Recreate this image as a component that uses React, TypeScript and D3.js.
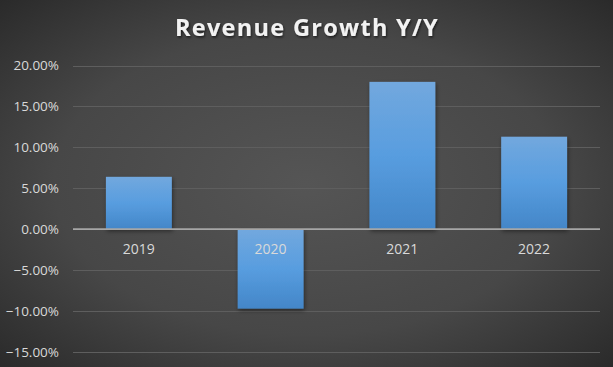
import React from 'react';
import * as d3 from 'd3';

// data
const years = ['2019', '2020', '2021', '2022'];
const growth = [0.064, -0.097, 0.18, 0.113];
const yTicks = [-0.15, -0.1, -0.05, 0, 0.05, 0.1, 0.15, 0.2];

const W = 613;
const H = 367;
const margin = {top: 65, right: 13, bottom: 15, left: 73};

export default function App() {
  const xScale = d3.scaleBand()
    .domain(years)
    .range([margin.left, W - margin.right])
    .paddingInner(0.5)
    .paddingOuter(0.25);

  const yScale = d3.scaleLinear()
    .domain([-0.15, 0.2])
    .range([352, 65.5]);

  const fmt = d3.format('.2%');
  const font = '"Open Sans", "Liberation Sans", sans-serif';

  return (
    <svg width={W} height={H} style={{position: 'absolute', left: 0, top: 0}}>
      <defs>
        <radialGradient id="bg" cx="50%" cy="50%" r="75%">
          <stop offset="0%" stopColor="#555555" />
          <stop offset="55%" stopColor="#474747" />
          <stop offset="100%" stopColor="#262626" />
        </radialGradient>
        <linearGradient id="bar" x1="0" y1="0" x2="0" y2="1">
          <stop offset="0%" stopColor="#72a8de" />
          <stop offset="50%" stopColor="#589ddf" />
          <stop offset="100%" stopColor="#4386c8" />
        </linearGradient>
        <filter id="shadow" x="-20%" y="-20%" width="140%" height="140%">
          <feDropShadow dx="1" dy="2" stdDeviation="2" floodColor="#000" floodOpacity="0.45" />
        </filter>
        <filter id="tshadow" x="-10%" y="-20%" width="120%" height="150%">
          <feDropShadow dx="1" dy="1.5" stdDeviation="1" floodColor="#000" floodOpacity="0.6" />
        </filter>
      </defs>
      <rect x={0} y={0} width={W} height={H} fill="url(#bg)" />

      <text x={307} y={36} textAnchor="middle" fill="#f2f2f2" fontFamily={font}
        fontWeight="bold" fontSize={23.5} letterSpacing={1.3} filter="url(#tshadow)">
        Revenue Growth Y/Y
      </text>

      {/* gridlines */}
      {yTicks.filter(t => t !== 0).map(t => (
        <line key={t} x1={margin.left} x2={W - margin.right}
          y1={Math.round(yScale(t)) + 0.5} y2={Math.round(yScale(t)) + 0.5}
          stroke="#5e5e5e" strokeWidth={1} />
      ))}

      {/* y tick labels */}
      {yTicks.map(t => (
        <text key={'l' + t} x={59} y={yScale(t)} dy="0.35em" textAnchor="end"
          fill="#d9d9d9" fontFamily={font} fontSize={13.5}>
          {fmt(t)}
        </text>
      ))}

      {/* bars */}
      {years.map((yr, i) => {
        const v = growth[i];
        const y0 = yScale(0);
        const y1 = yScale(v);
        return (
          <rect key={yr} x={xScale(yr)} width={xScale.bandwidth()}
            y={Math.min(y0, y1)} height={Math.abs(y1 - y0)}
            fill="url(#bar)" filter="url(#shadow)" />
        );
      })}

      {/* zero axis */}
      <line x1={margin.left} x2={W - margin.right} y1={yScale(0)} y2={yScale(0)}
        stroke="#a6a6a6" strokeWidth={1.75} />

      {/* category labels */}
      {years.map(yr => (
        <text key={'c' + yr} x={(xScale(yr) || 0) + xScale.bandwidth() / 2} y={yScale(0) + 20}
          dy="0.35em" textAnchor="middle" fill="#d9d9d9" fontFamily={font} fontSize={14}>
          {yr}
        </text>
      ))}
    </svg>
  );
}
